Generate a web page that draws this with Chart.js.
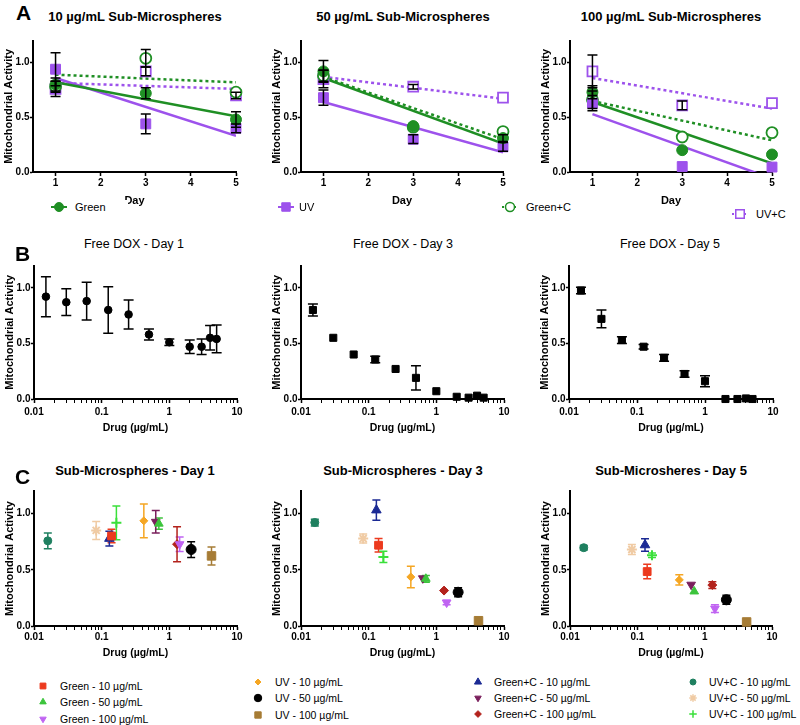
<!DOCTYPE html>
<html>
<head>
<meta charset="utf-8">
<script src="https://cdn.jsdelivr.net/npm/chart.js@4.4.1/dist/chart.umd.min.js"></script>
<style>
  body { margin: 0; background: #fff; font-family: "Liberation Sans", Arial, Helvetica, sans-serif; }
  #fig { position: relative; width: 800px; height: 725px; overflow: hidden; background: #fff; }
  #fig canvas { position: absolute; }
  .ttl { position: absolute; width: 300px; text-align: center; font-size: 13px; font-weight: bold; line-height: 16px; white-space: nowrap; }
  .ttl.thin { font-weight: normal; font-size: 12.5px; }
  .letter { position: absolute; font-size: 21px; font-weight: bold; line-height: 22px; }
  .leg { position: absolute; font-size: 10.5px; line-height: 14px; white-space: nowrap; }
  .leg.big { font-size: 11px; background: #fff; }
</style>
</head>
<body>
<div id="fig"></div>
<script>
// ========================
// Dados - painel A (dias)
// ========================
const days = [1, 3, 5];
const fitDays = [1, 5];
const dayTicks = [1, 2, 3, 4, 5];
const activityTicks = [0, 0.5, 1.0];

// 10 µg/mL
const a10Green = [0.80, 0.72, 0.48];
const a10GreenErr = [0.06, 0.05, 0.07];
const a10GreenFit = [0.82, 0.51];
const a10UV = [0.94, 0.44, 0.40];
const a10UVErr = [0.15, 0.09, 0.04];
const a10UVFit = [0.86, 0.33];
const a10GreenC = [0.78, 1.04, 0.73];
const a10GreenCErr = [0.05, 0.08, 0];
const a10GreenCFit = [0.89, 0.82];
const a10UVC = [0.76, 0.92, 0.70];
const a10UVCErr = [0.07, 0.04, 0.03];
const a10UVCFit = [0.815, 0.76];

// 50 µg/mL
const a50Green = [0.92, 0.42, 0.31];
const a50GreenErr = [0.10, 0, 0.03];
const a50GreenFit = [0.86, 0.26];
const a50UV = [0.68, 0.30, 0.23];
const a50UVErr = [0.07, 0.04, 0.04];
const a50UVFit = [0.64, 0.18];
const a50GreenC = [0.88, 0.41, 0.37];
const a50GreenCErr = [0.05, 0, 0];
const a50GreenCFit = [0.87, 0.30];
const a50UVC = [0.85, 0.78, 0.68];
const a50UVCErr = [0.08, 0.02, 0];
const a50UVCFit = [0.87, 0.67];

// 100 µg/mL
const a100Green = [0.73, 0.20, 0.16];
const a100GreenErr = [0.06, 0, 0];
const a100GreenFit = [0.64, 0.08];
const a100UV = [0.63, 0.05, 0.045];
const a100UVErr = [0.07, 0, 0];
const a100UVFit = [0.53, -0.06];
const a100GreenC = [0.66, 0.32, 0.36];
const a100GreenCErr = [0.08, 0, 0];
const a100GreenCFit = [0.65, 0.29];
const a100UVC = [0.92, 0.61, 0.63];
const a100UVCErr = [0.15, 0.04, 0];
const a100UVCFit = [0.86, 0.58];

const aLabels = ["Green", "UV", "Green+C", "UV+C"];

// ========================
// Dados - painel B (DOX livre)
// ========================
const doses = [0.015, 0.03, 0.06, 0.125, 0.25, 0.5, 1, 2, 3, 4, 5];
const doseTicks = [0.01, 0.1, 1, 10];
const freeDay1 = [0.92, 0.87, 0.88, 0.80, 0.76, 0.58, 0.51, 0.47, 0.47, 0.55, 0.54];
const freeDay1Err = [0.18, 0.12, 0.17, 0.21, 0.13, 0.05, 0.03, 0.06, 0.07, 0.11, 0.125];
const freeDay3 = [0.80, 0.55, 0.40, 0.355, 0.27, 0.19, 0.07, 0.02, 0.012, 0.03, 0.012];
const freeDay3Err = [0.055, 0, 0, 0.03, 0, 0.11, 0, 0, 0, 0, 0];
const freeDay5 = [0.975, 0.72, 0.53, 0.47, 0.37, 0.225, 0.16, 0.0, 0.0, 0.005, 0.0];
const freeDay5Err = [0.03, 0.08, 0.03, 0.02, 0.03, 0.03, 0.05, 0, 0, 0, 0];

// ========================
// Dados - painel C (sub-microesferas)
// ========================
const subLabels = [
  "Green - 10 µg/mL", "Green - 50 µg/mL", "Green - 100 µg/mL",
  "UV - 10 µg/mL", "UV - 50 µg/mL", "UV - 100 µg/mL",
  "Green+C - 10 µg/mL", "Green+C - 50 µg/mL", "Green+C - 100 µg/mL",
  "UV+C - 10 µg/mL", "UV+C - 50 µg/mL", "UV+C - 100 µg/mL"
];
const subDoses = [0.14, 0.70, 1.42, 0.42, 2.1, 4.2, 0.13, 0.63, 1.3, 0.016, 0.083, 0.165];
const subDay1 = [0.80, 0.91, 0.727, 0.935, 0.68, 0.623, 0.777, 0.926, 0.727, 0.757, 0.85, 0.917];
const subDay1Err = [0.06, 0.05, 0.065, 0.15, 0.07, 0.08, 0.065, 0.10, 0.155, 0.07, 0.08, 0.15];
const subDay3 = [0.718, 0.42, 0.208, 0.436, 0.30, 0.047, 1.03, 0.424, 0.315, 0.92, 0.777, 0.614];
const subDay3Err = [0.06, 0.03, 0.02, 0.095, 0.04, 0, 0.09, 0, 0, 0.03, 0.04, 0.05];
const subDay5 = [0.484, 0.307, 0.155, 0.41, 0.233, 0.036, 0.72, 0.367, 0.364, 0.696, 0.68, 0.63];
const subDay5Err = [0.065, 0, 0.035, 0.045, 0.04, 0, 0.055, 0, 0.03, 0.02, 0.045, 0.02];

// ========================
// Estilos / layout
// ========================
const GREEN = "#1f8f24";
const PURPLE = "#9d52ec";
const subColors = ["#ec3a1e", "#3cc43c", "#c064f2", "#f5a623", "#000000", "#a67c35",
                   "#1b2a94", "#7a1f5c", "#b3221c", "#1f8060", "#f0cba4", "#3ae03a"];
const subStyles = ["rect", "triangle", "triangle", "rectRot", "circle", "rect",
                   "triangle", "triangle", "rectRot", "circle", "star", "cross"];
const subRot = [0, 0, 180, 0, 0, 0, 0, 180, 0, 0, 0, 0];
const subRadius = [5.5, 5, 5, 4, 5, 6, 5.5, 5, 4.5, 4, 5, 5];

const FONT = '"Liberation Sans", Arial, Helvetica, sans-serif';
Chart.defaults.font.family = FONT;
Chart.defaults.color = "#000";

const fig = document.getElementById("fig");
const YW = 33, PADT = 6, PADR = 12;
const rows = {
  A: { T: 38, B: 172, XH: 37, tickPad: 1, titleY: 17, titles: [135, 403, 671] },
  B: { T: 265, B: 399, XH: 37, tickPad: 3, titleY: 244, titles: [134, 403, 670] },
  C: { T: 490, B: 626, XH: 35, tickPad: 1, titleY: 471, titles: [135, 403, 671] }
};
const cols = {
  A: [[33, 236], [301, 503], [570, 772]],
  B: [[34, 237], [301, 504], [569, 773]],
  C: [[34, 237], [301, 504], [570, 772]]
};

// ========================
// Plugin de barras de erro
// ========================
function drawErrors(chart, opts) {
  const { ctx, scales: { x, y } } = chart;
  ctx.save();
  chart.data.datasets.forEach(ds => {
    if (!ds.errors) return;
    ctx.strokeStyle = ds.errorColor || "#000";
    ctx.lineWidth = 1.5;
    ds.data.forEach((p, i) => {
      const e = ds.errors[i];
      if (!e) return;
      const px = x.getPixelForValue(p.x);
      const y1 = y.getPixelForValue(p.y + e);
      const y2 = y.getPixelForValue(Math.max(p.y - e, 0));
      const hw = opts.capW / 2;
      ctx.beginPath();
      ctx.moveTo(px, y1); ctx.lineTo(px, y2);
      ctx.moveTo(px - hw, y1); ctx.lineTo(px + hw, y1);
      ctx.moveTo(px - hw, y2); ctx.lineTo(px + hw, y2);
      ctx.stroke();
    });
  });
  ctx.restore();
}
const errorBars = {
  id: "errorBars",
  beforeDatasetsDraw(chart, args, opts) { if (!opts.front) drawErrors(chart, opts); },
  afterDatasetsDraw(chart, args, opts) { if (opts.front) drawErrors(chart, opts); }
};

// ========================
// Escalas
// ========================
function yScale() {
  return {
    type: "linear", min: 0, max: 1.2,
    afterFit: s => { s.width = YW; },
    afterBuildTicks: s => { s.ticks = activityTicks.map(v => ({ value: v })); },
    ticks: { callback: v => Number(v).toFixed(1), font: { size: 10, weight: "bold" }, color: "#000", padding: 0.5 },
    grid: { drawOnChartArea: false, drawTicks: true, tickLength: 3, tickWidth: 1.5, tickColor: "#000" },
    border: { display: true, color: "#000", width: 2 },
    title: { display: true, text: "Mitochondrial Activity", font: { size: 11, weight: "bold" }, color: "#000", padding: { top: 2.5, bottom: 0 } }
  };
}
function dayScale() {
  return {
    type: "linear", min: 0.5, max: 5,
    afterBuildTicks: s => { s.ticks = dayTicks.map(v => ({ value: v })); },
    ticks: { callback: v => v, font: { size: 10, weight: "bold" }, color: "#000", autoSkip: false, maxRotation: 0 },
    grid: { drawOnChartArea: false, drawTicks: true, tickLength: 4, tickWidth: 1.5, tickColor: "#000" },
    border: { display: true, color: "#000", width: 2 },
    title: { display: true, text: "Day", font: { size: 11, weight: "bold" }, color: "#000", padding: { top: 0, bottom: 1.4 } }
  };
}
function doseScale() {
  const all = [];
  doseTicks.forEach((d, k) => {
    all.push(d);
    if (k < doseTicks.length - 1) for (let m = 2; m <= 9; m++) all.push(d * m);
  });
  return {
    type: "logarithmic", min: 0.01, max: 10,
    afterBuildTicks: s => { s.ticks = all.map(v => ({ value: v, major: doseTicks.includes(v) })); },
    ticks: { callback: v => doseTicks.includes(v) ? String(v) : "", font: { size: 10, weight: "bold" }, color: "#000", autoSkip: false, maxRotation: 0 },
    grid: { drawOnChartArea: false, drawTicks: true, tickLength: 4, tickWidth: c => (c.tick && c.tick.major ? 1.5 : 1), tickColor: "#000" },
    border: { display: true, color: "#000", width: 2 },
    title: { display: true, text: "Drug (µg/mL)", font: { size: 10.5, weight: "bold" }, color: "#000", padding: { top: 0, bottom: 1.7 } }
  };
}

// ========================
// Montagem de um gráfico
// ========================
function plot(row, col, xScale, datasets, errOpts) {
  const r = rows[row];
  const [L, R] = cols[row][col];
  const c = document.createElement("canvas");
  const w = R - L + YW + PADR, h = PADT + r.B - r.T + r.XH;
  c.width = w; c.height = h;
  c.style.left = (L - YW) + "px";
  c.style.top = (r.T - PADT) + "px";
  c.style.width = w + "px";
  c.style.height = h + "px";
  fig.appendChild(c);
  xScale.afterFit = s => { s.height = r.XH; };
  xScale.ticks.padding = r.tickPad;
  new Chart(c, {
    type: "scatter",
    data: { datasets },
    options: {
      responsive: false, animation: false, events: [],
      layout: { padding: { top: PADT, right: PADR, left: 0, bottom: 0 } },
      plugins: { legend: { display: false }, tooltip: { enabled: false }, errorBars: errOpts },
      scales: { x: xScale, y: yScale() }
    },
    plugins: [errorBars]
  });
}

function text(x, y, str, cls, center) {
  const d = document.createElement("div");
  d.className = cls;
  d.textContent = str;
  fig.appendChild(d);
  if (center) d.style.left = (x - 150) + "px"; else d.style.left = x + "px";
  d.style.top = (y - d.offsetHeight / 2) + "px";
  return d;
}

// ========================
// Painel A
// ========================
function panelA(col, title, s) {
  const series = [
    { v: s.green, e: s.greenErr, f: s.greenFit, color: GREEN, style: "circle", open: false, dash: [] },
    { v: s.uv, e: s.uvErr, f: s.uvFit, color: PURPLE, style: "rect", open: false, dash: [] },
    { v: s.greenC, e: s.greenCErr, f: s.greenCFit, color: GREEN, style: "circle", open: true, dash: [3, 3] },
    { v: s.uvC, e: s.uvCErr, f: s.uvCFit, color: PURPLE, style: "rect", open: true, dash: [3, 3] }
  ];
  const pts = series.map(sr => ({
    data: days.map((d, i) => ({ x: d, y: sr.v[i] })),
    errors: sr.e,
    showLine: false, clip: false,
    pointStyle: sr.style,
    pointRadius: sr.style === "rect" ? 7 : 5.5,
    pointBackgroundColor: sr.open ? "#fff" : sr.color,
    pointBorderColor: sr.color,
    pointBorderWidth: sr.open ? 1.8 : 1
  }));
  const fits = series.map(sr => ({
    data: fitDays.map((d, i) => ({ x: d, y: sr.f[i] })),
    showLine: true, pointRadius: 0,
    borderColor: sr.color, borderWidth: 2.5, borderDash: sr.dash
  }));
  plot("A", col, dayScale(), pts.concat(fits), { capW: 10, front: true });
  text(rows.A.titles[col], rows.A.titleY, title, "ttl", true);
}

panelA(0, "10 µg/mL Sub-Microspheres", {
  green: a10Green, greenErr: a10GreenErr, greenFit: a10GreenFit,
  uv: a10UV, uvErr: a10UVErr, uvFit: a10UVFit,
  greenC: a10GreenC, greenCErr: a10GreenCErr, greenCFit: a10GreenCFit,
  uvC: a10UVC, uvCErr: a10UVCErr, uvCFit: a10UVCFit
});
panelA(1, "50 µg/mL Sub-Microspheres", {
  green: a50Green, greenErr: a50GreenErr, greenFit: a50GreenFit,
  uv: a50UV, uvErr: a50UVErr, uvFit: a50UVFit,
  greenC: a50GreenC, greenCErr: a50GreenCErr, greenCFit: a50GreenCFit,
  uvC: a50UVC, uvCErr: a50UVCErr, uvCFit: a50UVCFit
});
panelA(2, "100 µg/mL Sub-Microspheres", {
  green: a100Green, greenErr: a100GreenErr, greenFit: a100GreenFit,
  uv: a100UV, uvErr: a100UVErr, uvFit: a100UVFit,
  greenC: a100GreenC, greenCErr: a100GreenCErr, greenCFit: a100GreenCFit,
  uvC: a100UVC, uvCErr: a100UVCErr, uvCFit: a100UVCFit
});

// ========================
// Painel B
// ========================
function panelB(col, title, vals, errs, style) {
  const ds = [{
    data: doses.map((d, i) => ({ x: d, y: vals[i] })),
    errors: errs, errorColor: "#000",
    showLine: false, clip: false,
    pointStyle: style, pointRadius: style === "rect" ? 5 : 3.8,
    pointBackgroundColor: "#000", pointBorderColor: "#000", pointBorderWidth: 1
  }];
  plot("B", col, doseScale(), ds, { capW: 10, front: false });
  text(rows.B.titles[col], rows.B.titleY, title, "ttl thin", true);
}
panelB(0, "Free DOX - Day 1", freeDay1, freeDay1Err, "circle");
panelB(1, "Free DOX - Day 3", freeDay3, freeDay3Err, "rect");
panelB(2, "Free DOX - Day 5", freeDay5, freeDay5Err, "rect");

// ========================
// Painel C
// ========================
function panelC(col, title, vals, errs) {
  const ds = subLabels.map((lab, i) => ({
    label: lab,
    data: [{ x: subDoses[i], y: vals[i] }],
    errors: [errs[i]], errorColor: subColors[i],
    showLine: false, clip: false,
    pointStyle: subStyles[i], rotation: subRot[i], pointRadius: subRadius[i],
    pointBackgroundColor: subColors[i], pointBorderColor: subColors[i],
    pointBorderWidth: subStyles[i] === "star" || subStyles[i] === "cross" ? 2 : 1
  }));
  plot("C", col, doseScale(), ds, { capW: 8, front: false });
  text(rows.C.titles[col], rows.C.titleY, title, "ttl", true);
}
panelC(0, "Sub-Microspheres - Day 1", subDay1, subDay1Err);
panelC(1, "Sub-Microspheres - Day 3", subDay3, subDay3Err);
panelC(2, "Sub-Microsheres - Day 5", subDay5, subDay5Err);

// ========================
// Letras dos painéis
// ========================
text(16, 13, "A", "letter", false);
text(15, 254, "B", "letter", false);
text(15, 477, "C", "letter", false);

// ========================
// Legendas
// ========================
function marker(cx, cy, w, h, draw) {
  const c = document.createElement("canvas");
  c.width = w; c.height = h;
  c.style.left = (cx - w / 2) + "px";
  c.style.top = (cy - h / 2) + "px";
  fig.appendChild(c);
  draw(c.getContext("2d"), w / 2, h / 2);
}
function point(ctx, x, y, o) {
  ctx.fillStyle = o.fill; ctx.strokeStyle = o.stroke; ctx.lineWidth = o.borderWidth;
  if (Chart.helpers && Chart.helpers.drawPoint) {
    Chart.helpers.drawPoint(ctx, { pointStyle: o.style, radius: o.radius, rotation: o.rotation || 0, borderWidth: o.borderWidth }, x, y);
  } else {
    ctx.beginPath(); ctx.arc(x, y, o.radius, 0, Math.PI * 2); ctx.fill(); ctx.stroke();
  }
}

// legenda do painel A (caixa branca, como no original, cobre parte do "Day")
const aLegX = [59, 286, 510, 740];
const aLegTextX = [75, 299, 526, 756];
const aLegY = [207, 207, 207, 214];
const aLegBoxW = [53, 0, 0, 0];
const aLegStyle = [
  { color: GREEN, style: "circle", open: false, dash: [] },
  { color: PURPLE, style: "rect", open: false, dash: [] },
  { color: GREEN, style: "circle", open: true, dash: [2, 2] },
  { color: PURPLE, style: "rect", open: true, dash: [2, 2] }
];
aLabels.forEach((lab, i) => {
  const st = aLegStyle[i];
  marker(aLegX[i], aLegY[i], 18, 14, (ctx, x, y) => {
    ctx.strokeStyle = st.color; ctx.lineWidth = 2; ctx.setLineDash(st.dash);
    ctx.beginPath(); ctx.moveTo(1, y); ctx.lineTo(17, y); ctx.stroke();
    ctx.setLineDash([]);
    point(ctx, x, y, { fill: st.open ? "#fff" : st.color, stroke: st.color, borderWidth: st.open ? 1.5 : 1,
                       style: st.style, radius: st.style === "rect" ? 6 : 4.5 });
  });
  const d = text(aLegTextX[i], aLegY[i], lab, "leg big", false);
  if (aLegBoxW[i]) d.style.width = aLegBoxW[i] + "px";
});

// legenda do painel C
const cLegX = [43, 258, 478, 693];
const cLegTextX = [60, 275, 494, 709];
const cLegY = [[686, 702, 719], [682, 698, 715], [682, 698, 714], [682, 698, 714]];
subLabels.forEach((lab, i) => {
  const col = Math.floor(i / 3), row = i % 3;
  marker(cLegX[col], cLegY[col][row], 12, 12, (ctx, x, y) => {
    point(ctx, x, y, { fill: subColors[i], stroke: subColors[i],
                       borderWidth: subStyles[i] === "star" || subStyles[i] === "cross" ? 1.5 : 1,
                       style: subStyles[i], rotation: subRot[i], radius: subRadius[i] * 0.75 });
  });
  text(cLegTextX[col], cLegY[col][row], lab, "leg", false);
});
</script>
</body>
</html>
